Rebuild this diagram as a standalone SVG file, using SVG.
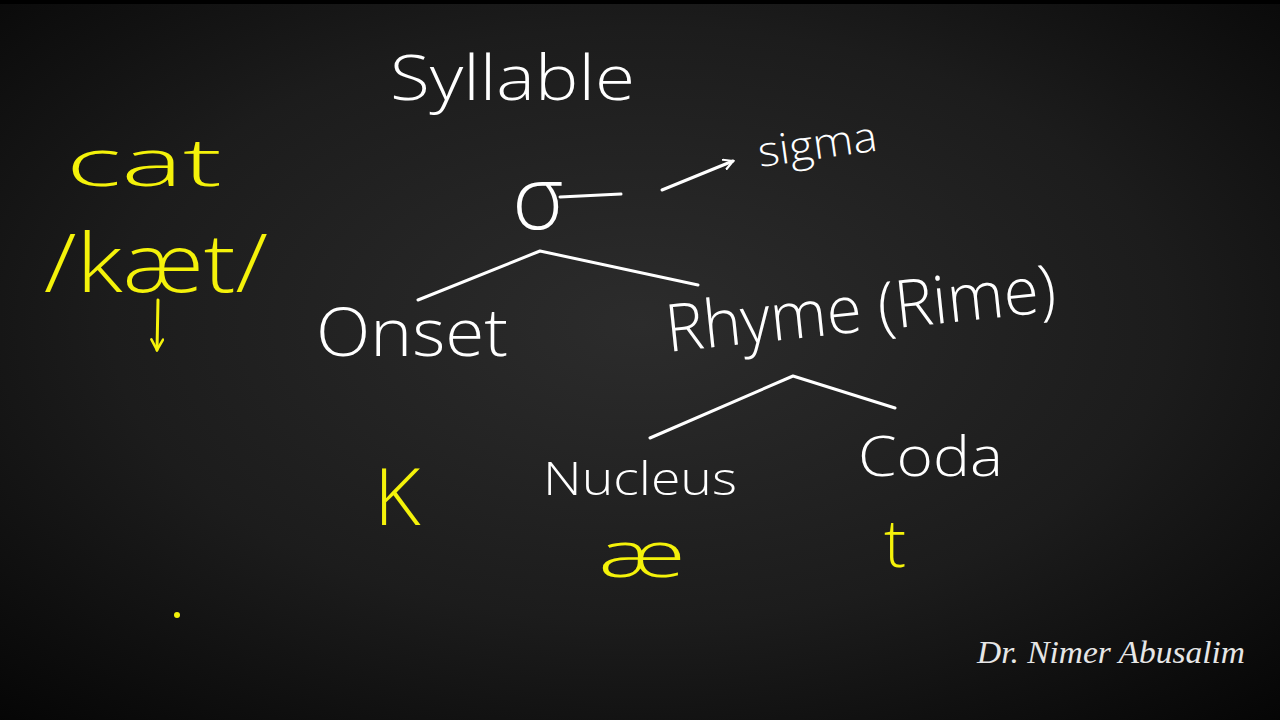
<svg xmlns="http://www.w3.org/2000/svg" width="1280" height="720" viewBox="0 0 1280 720">
<defs>
<radialGradient id="bg" cx="0.5" cy="0.45" r="0.75">
<stop offset="0" stop-color="#2c2c2c"/>
<stop offset="0.55" stop-color="#1c1c1c"/>
<stop offset="1" stop-color="#050505"/>
</radialGradient>
<marker id="ah" viewBox="0 0 12 12" refX="10" refY="6" markerWidth="12" markerHeight="12" markerUnits="userSpaceOnUse" orient="auto">
<path d="M1,1 L10,6 L1,11" fill="none" stroke="#ffffff" stroke-width="2.2" stroke-linecap="round"/>
</marker>
<marker id="ahy" viewBox="0 0 12 12" refX="10" refY="6" markerWidth="14" markerHeight="14" markerUnits="userSpaceOnUse" orient="auto">
<path d="M1,1 L10,6 L1,11" fill="none" stroke="#f4f20a" stroke-width="2.2" stroke-linecap="round"/>
</marker>
</defs>
<style>
.w{fill:#ffffff;font-family:"Open Sans","Lato","Liberation Sans",sans-serif;font-weight:300}
.y{fill:#f4f20a;font-family:"Open Sans","Lato","Liberation Sans",sans-serif;font-weight:300}
.ln{fill:none;stroke:#ffffff;stroke-width:3;stroke-linecap:round;stroke-linejoin:round}
.lny{fill:none;stroke:#f4f20a;stroke-width:3;stroke-linecap:round;stroke-linejoin:round}
.sig{fill:#e6e6e6;font-family:"Liberation Serif",serif;font-style:italic}
</style>
<rect width="1280" height="720" fill="url(#bg)"/>
<rect width="1280" height="4" fill="#000"/>

<g id="syllable"><text class="w" x="390" y="100" font-size="62" textLength="245" lengthAdjust="spacingAndGlyphs">Syllable</text></g>
<g id="sigma-node"><text class="w" x="512" y="229" font-size="88">σ</text>
<path class="ln" d="M560,197 L621,194"/></g>
<g id="sigma-label"><text class="w" x="760" y="167" font-size="42" textLength="120" lengthAdjust="spacingAndGlyphs" transform="rotate(-8 760 167)">sigma</text></g>
<g id="onset"><text class="w" x="316" y="356" font-size="66" textLength="192" lengthAdjust="spacingAndGlyphs">Onset</text></g>
<g id="rhyme"><text class="w" x="668" y="352" font-size="66" textLength="392" lengthAdjust="spacingAndGlyphs" transform="rotate(-6 668 352)">Rhyme (Rime)</text></g>
<g id="nucleus"><text class="w" x="543" y="495" font-size="46" textLength="194" lengthAdjust="spacingAndGlyphs">Nucleus</text></g>
<g id="coda"><text class="w" x="858" y="476" font-size="56" textLength="145" lengthAdjust="spacingAndGlyphs">Coda</text></g>
<g id="k"><text class="y" x="374" y="525" font-size="80">K</text></g>
<g id="ae"><text class="y" x="598" y="577" font-size="64" textLength="88" lengthAdjust="spacingAndGlyphs">æ</text></g>
<g id="t"><text class="y" x="884" y="567" font-size="66">t</text></g>
<g id="cat"><text class="y" x="66" y="186" font-size="66" textLength="156" lengthAdjust="spacingAndGlyphs">cat</text></g>
<g id="kaet"><text class="y" x="44" y="292" font-size="82" textLength="224" lengthAdjust="spacingAndGlyphs">/kæt/</text></g>
<g id="signature"><text class="sig" x="977" y="663" font-size="32" textLength="268" lengthAdjust="spacingAndGlyphs">Dr. Nimer Abusalim</text></g>

<g id="connectors">
<path class="ln" d="M662,190 L733,161" marker-end="url(#ah)"/>
<path class="ln" d="M418,300 L540,251 L698,285"/>
<path class="ln" d="M650,438 L793,376 L895,408"/>
<path class="lny" d="M158,300 L157,350" marker-end="url(#ahy)"/>
<circle cx="177" cy="615" r="3" fill="#f4f20a"/>
</g>
</svg>
